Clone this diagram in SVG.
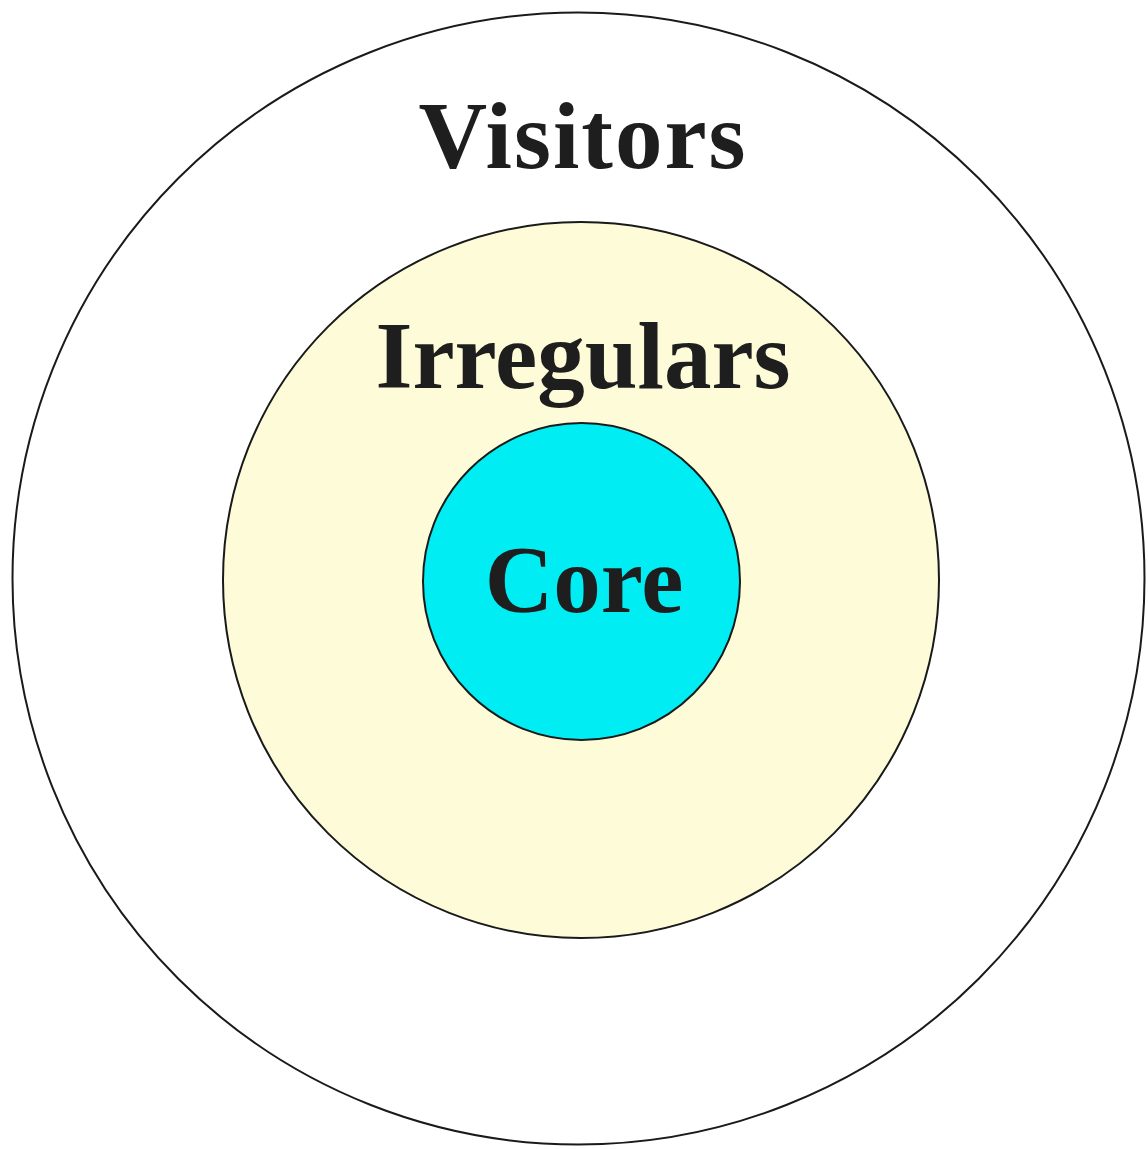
<svg xmlns="http://www.w3.org/2000/svg" width="1148" height="1149" viewBox="0 0 1148 1149">
<style>
.ring{stroke:#1a1a1a;stroke-width:2}
.lbl{font-family:"Liberation Serif","DejaVu Serif",serif;font-weight:bold;font-size:95px;fill:#1e1e1e;text-anchor:middle}
</style>
<rect width="1148" height="1149" fill="#ffffff"/>
<g id="visitors">
<circle class="ring" cx="578.5" cy="578.5" r="566" fill="#ffffff"/>
<text class="lbl" x="583" y="168" letter-spacing="2">Visitors</text>
</g>
<g id="irregulars">
<circle class="ring" cx="581" cy="580" r="358" fill="#fefcd8"/>
<text class="lbl" x="583" y="388">Irregulars</text>
</g>
<g id="core">
<circle class="ring" cx="581.5" cy="581.5" r="158.5" fill="#00eef3"/>
<text class="lbl" x="584" y="612">Core</text>
</g>
<g id="connectors"/>
</svg>
